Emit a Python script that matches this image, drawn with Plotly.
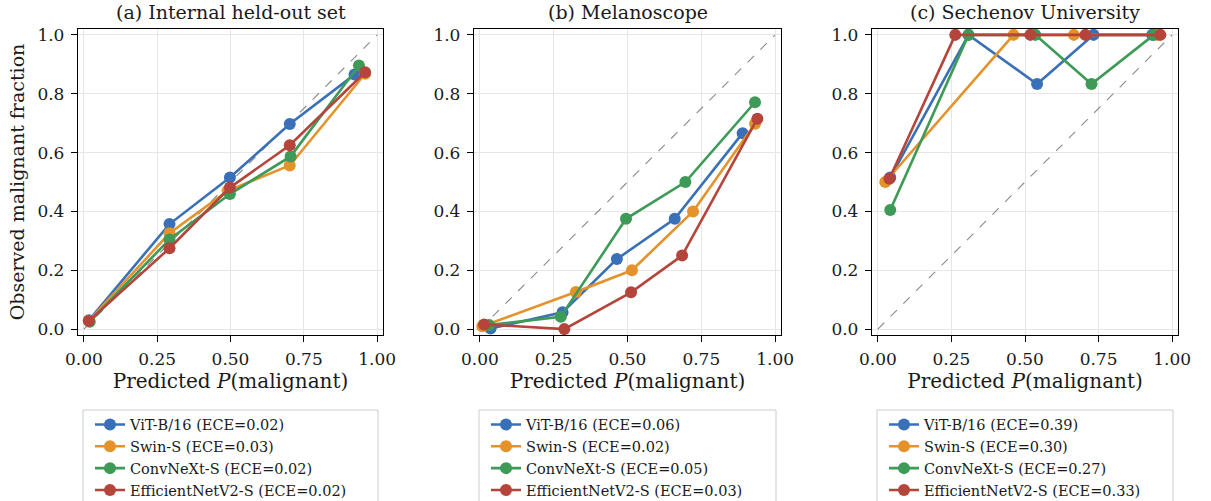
import plotly.graph_objects as go

models = ["ViT-B/16", "Swin-S", "ConvNeXt-S", "EfficientNetV2-S"]
colors = ["#3A70B8", "#E5922A", "#3D9A57", "#B5443B"]
titles = ["(a) Internal held-out set", "(b) Melanoscope", "(c) Sechenov University"]

ece_a = [0.02, 0.03, 0.02, 0.02]
ece_b = [0.06, 0.02, 0.05, 0.03]
ece_c = [0.39, 0.30, 0.27, 0.33]

# Panel (a) internal held-out set
a_vit_x = [0.017, 0.292, 0.498, 0.702, 0.923]
a_vit_y = [0.030, 0.357, 0.515, 0.697, 0.865]
a_swin_x = [0.017, 0.292, 0.490, 0.702, 0.959]
a_swin_y = [0.028, 0.326, 0.470, 0.556, 0.868]
a_conv_x = [0.020, 0.292, 0.498, 0.705, 0.938]
a_conv_y = [0.025, 0.305, 0.459, 0.587, 0.896]
a_eff_x = [0.017, 0.292, 0.498, 0.702, 0.959]
a_eff_y = [0.028, 0.275, 0.481, 0.625, 0.873]

# Panel (b) Melanoscope
b_vit_x = [0.036, 0.280, 0.464, 0.660, 0.890]
b_vit_y = [0.002, 0.057, 0.238, 0.375, 0.666]
b_swin_x = [0.008, 0.325, 0.515, 0.722, 0.932]
b_swin_y = [0.010, 0.126, 0.200, 0.400, 0.698]
b_conv_x = [0.031, 0.274, 0.495, 0.696, 0.932]
b_conv_y = [0.014, 0.042, 0.375, 0.500, 0.771]
b_eff_x = [0.014, 0.286, 0.512, 0.685, 0.940]
b_eff_y = [0.016, 0.000, 0.125, 0.250, 0.715]

# Panel (c) Sechenov University
c_vit_x = [0.042, 0.308, 0.541, 0.733, 0.932]
c_vit_y = [0.515, 1.000, 0.833, 1.000, 1.000]
c_swin_x = [0.025, 0.461, 0.666, 0.950]
c_swin_y = [0.500, 1.000, 1.000, 1.000]
c_conv_x = [0.042, 0.308, 0.535, 0.726, 0.938]
c_conv_y = [0.405, 1.000, 1.000, 0.833, 1.000]
c_eff_x = [0.039, 0.263, 0.518, 0.705, 0.960]
c_eff_y = [0.511, 1.000, 1.000, 1.000, 1.000]

panels = [
    ([(a_vit_x, a_vit_y), (a_swin_x, a_swin_y), (a_conv_x, a_conv_y), (a_eff_x, a_eff_y)], ece_a),
    ([(b_vit_x, b_vit_y), (b_swin_x, b_swin_y), (b_conv_x, b_conv_y), (b_eff_x, b_eff_y)], ece_b),
    ([(c_vit_x, c_vit_y), (c_swin_x, c_swin_y), (c_conv_x, c_conv_y), (c_eff_x, c_eff_y)], ece_c),
]

x_ticks = [0, 0.25, 0.5, 0.75, 1.0]
y_ticks = [0, 0.2, 0.4, 0.6, 0.8, 1.0]

FW, FH = 1211, 501
FONT = "DejaVu Serif"
TXT = "#1a1a1a"


def px(v):
    return v / FW


def py(v):
    return 1 - v / FH


x_doms = [(78, 383), (474, 781), (872, 1178)]
y_top, y_bot = 29, 335

fig = go.Figure()
layout = {}
shapes = []
annotations = []

for i, (series, eces) in enumerate(panels):
    k = "" if i == 0 else str(i + 1)
    xa, ya = "x" + k, "y" + k
    leg = "legend" + k
    fig.add_trace(go.Scatter(x=[0, 1], y=[0, 1], mode="lines", xaxis=xa, yaxis=ya,
                             line=dict(color="#8a8a8a", width=1.1, dash="dash"),
                             showlegend=False, hoverinfo="skip"))
    for j, (xs, ys) in enumerate(series):
        fig.add_trace(go.Scatter(
            x=xs, y=ys, mode="lines+markers", xaxis=xa, yaxis=ya,
            name=f"{models[j]} (ECE={eces[j]:.2f})",
            line=dict(color=colors[j], width=2.6),
            marker=dict(color=colors[j], size=12),
            legend=leg))
    x0, x1 = x_doms[i]
    layout["xaxis" + k] = dict(
        domain=[px(x0), px(x1)], anchor=ya, range=[-0.02, 1.02], automargin=False,
        tickvals=x_ticks, tickformat=".2f", ticks="outside", ticklen=6, tickwidth=1,
        ticklabelstandoff=2,
        tickcolor="black", showline=True, linecolor="black", linewidth=1.3, mirror=True,
        showgrid=True, gridcolor="#e6e6e6", gridwidth=1, zeroline=False,
        tickfont=dict(family=FONT, size=17, color=TXT),
        title=dict(text="Predicted <i>P</i>(malignant)", font=dict(family=FONT, size=20, color=TXT), standoff=5))
    layout["yaxis" + k] = dict(
        domain=[py(y_bot), py(y_top)], anchor=xa, range=[-0.02, 1.02], automargin=False,
        tickvals=y_ticks, tickformat=".1f", ticks="outside", ticklen=6, tickwidth=1,
        ticklabelstandoff=3,
        tickcolor="black", showline=True, linecolor="black", linewidth=1.3, mirror=True,
        showgrid=True, gridcolor="#e6e6e6", gridwidth=1, zeroline=False,
        tickfont=dict(family=FONT, size=17, color=TXT))
    if i == 0:
        layout["yaxis"]["title"] = dict(text="Observed malignant fraction",
                                        font=dict(family=FONT, size=19, color=TXT), standoff=7)
    annotations.append(dict(text=titles[i], x=px((x0 + x1) / 2), y=py(12.5), xref="paper", yref="paper",
                            xanchor="center", yanchor="middle", showarrow=False,
                            font=dict(family=FONT, size=19, color=TXT)))
    lx0, lx1 = x0 + 5, x1 - 5
    ly0 = 410
    shapes.append(dict(type="rect", xref="paper", yref="paper", x0=px(lx0), x1=px(lx1),
                       y0=-0.05, y1=py(ly0), line=dict(color="#cccccc", width=1),
                       fillcolor="white", layer="below"))
    layout[leg] = dict(x=px(lx0 + 7), y=py(408.5), xanchor="left", yanchor="top",
                       bgcolor="rgba(0,0,0,0)", borderwidth=0,
                       font=dict(family=FONT, size=14.5, color=TXT), itemwidth=30,
                       tracegroupgap=0)

fig.update_layout(**layout)
fig.update_layout(width=FW, height=FH, margin=dict(l=0, r=0, t=0, b=0, autoexpand=False),
                  paper_bgcolor="white", plot_bgcolor="white",
                  shapes=shapes, annotations=annotations, showlegend=True)
fig.write_html("out.html", config={"displayModeBar": False},
               post_script="document.body.style.margin='0px';")
